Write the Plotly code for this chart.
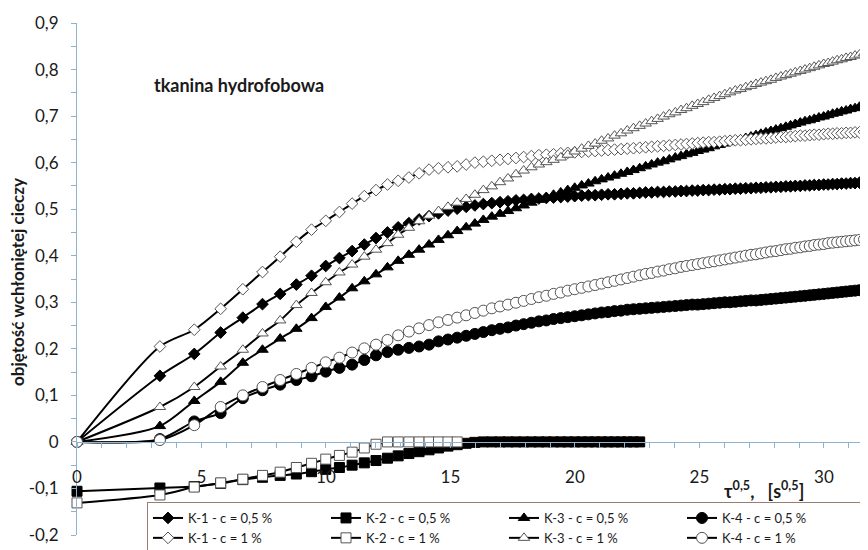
import plotly.graph_objects as go

# x = tau^0.5 [s^0.5] for each measurement
X = [0, 3.33, 4.71, 5.77, 6.66, 7.45, 8.16, 8.81, 9.42, 9.99, 10.54, 11.05, 11.54, 12.01, 12.47,
     12.90, 13.33, 13.74, 14.14, 14.52, 14.90, 15.27, 15.63, 15.98, 16.32, 16.66, 16.99, 17.31,
     17.63, 17.94, 18.25, 18.55, 18.85, 19.14, 19.43, 19.71, 19.99, 20.27, 20.54, 20.81, 21.07,
     21.33, 21.59, 21.85, 22.10, 22.35, 22.60, 22.84, 23.08, 23.32, 23.56, 23.79, 24.03, 24.26,
     24.48, 24.71, 24.93, 25.15, 25.37, 25.59, 25.81, 26.02, 26.23, 26.44, 26.65, 26.86, 27.07,
     27.27, 27.47, 27.67, 27.87, 28.07, 28.27, 28.47, 28.66, 28.85, 29.05, 29.24, 29.43, 29.61,
     29.80, 29.99, 30.17, 30.35, 30.53, 30.71, 30.89, 31.07, 31.25, 31.43, 31.61]

K1_05 = [0, 0.142, 0.189, 0.235, 0.267, 0.296, 0.318, 0.338, 0.357, 0.378, 0.395, 0.410, 0.424,
         0.438, 0.450, 0.461, 0.470, 0.478, 0.485, 0.491, 0.497, 0.501, 0.505, 0.508, 0.511, 0.513,
         0.515, 0.517, 0.519, 0.520, 0.522, 0.523, 0.524, 0.525, 0.526, 0.527, 0.528, 0.529, 0.530,
         0.530, 0.531, 0.532, 0.532, 0.533, 0.534, 0.534, 0.535, 0.536, 0.536, 0.537, 0.537, 0.538,
         0.538, 0.539, 0.539, 0.540, 0.540, 0.541, 0.541, 0.542, 0.542, 0.543, 0.543, 0.544, 0.544,
         0.545, 0.545, 0.546, 0.546, 0.547, 0.547, 0.548, 0.548, 0.549, 0.549, 0.550, 0.550, 0.551,
         0.551, 0.552, 0.552, 0.553, 0.553, 0.554, 0.554, 0.555, 0.555, 0.556, 0.556, 0.557, 0.557]

K2_05 = [-0.106, -0.099, -0.096, -0.089, -0.081, -0.076, -0.072, -0.069, -0.064, -0.059, -0.055,
         -0.050, -0.045, -0.040, -0.035, -0.030, -0.025, -0.021, -0.017, -0.013, -0.009, -0.006,
         -0.003, -0.001, 0, 0, 0, 0, 0, 0, 0, 0, 0, 0, 0, 0, 0, 0, 0, 0, 0, 0, 0, 0, 0, 0, 0]

K3_05 = [0, 0.034, 0.088, 0.129, 0.170, 0.198, 0.222, 0.243, 0.266, 0.290, 0.310, 0.330, 0.345,
         0.360, 0.375, 0.389, 0.402, 0.413, 0.424, 0.434, 0.444, 0.453, 0.461, 0.469, 0.477, 0.484,
         0.490, 0.496, 0.502, 0.508, 0.514, 0.520, 0.526, 0.531, 0.536, 0.541, 0.546, 0.551, 0.555,
         0.560, 0.564, 0.568, 0.572, 0.576, 0.580, 0.584, 0.588, 0.592, 0.596, 0.600, 0.603, 0.607,
         0.611, 0.614, 0.618, 0.621, 0.625, 0.628, 0.631, 0.635, 0.638, 0.641, 0.644, 0.647, 0.650,
         0.653, 0.656, 0.659, 0.662, 0.665, 0.668, 0.671, 0.674, 0.677, 0.680, 0.683, 0.686, 0.689,
         0.691, 0.694, 0.697, 0.699, 0.702, 0.705, 0.707, 0.710, 0.712, 0.715, 0.717, 0.720, 0.722]

K4_05 = [0, 0.006, 0.044, 0.062, 0.094, 0.111, 0.123, 0.133, 0.141, 0.151, 0.159, 0.166, 0.176,
         0.186, 0.193, 0.198, 0.202, 0.205, 0.209, 0.216, 0.220, 0.224, 0.228, 0.232, 0.236, 0.240,
         0.243, 0.246, 0.250, 0.253, 0.256, 0.259, 0.261, 0.264, 0.266, 0.268, 0.270, 0.272, 0.274,
         0.276, 0.278, 0.279, 0.281, 0.282, 0.284, 0.285, 0.286, 0.287, 0.288, 0.289, 0.290, 0.291,
         0.292, 0.293, 0.294, 0.295, 0.295, 0.296, 0.297, 0.298, 0.299, 0.300, 0.300, 0.301, 0.302,
         0.303, 0.304, 0.304, 0.305, 0.306, 0.307, 0.308, 0.309, 0.310, 0.311, 0.312, 0.313, 0.314,
         0.315, 0.316, 0.317, 0.318, 0.319, 0.320, 0.321, 0.322, 0.323, 0.324, 0.325, 0.326, 0.327]

K1_1 = [0, 0.205, 0.241, 0.286, 0.328, 0.365, 0.398, 0.430, 0.456, 0.475, 0.494, 0.512, 0.528,
        0.541, 0.553, 0.561, 0.568, 0.577, 0.585, 0.588, 0.590, 0.592, 0.596, 0.600, 0.602, 0.604,
        0.606, 0.608, 0.610, 0.612, 0.614, 0.616, 0.617, 0.618, 0.620, 0.621, 0.622, 0.623, 0.624,
        0.625, 0.626, 0.627, 0.628, 0.629, 0.630, 0.631, 0.632, 0.633, 0.634, 0.635, 0.636, 0.637,
        0.638, 0.639, 0.640, 0.641, 0.642, 0.643, 0.644, 0.644, 0.645, 0.646, 0.647, 0.648, 0.648,
        0.649, 0.650, 0.651, 0.652, 0.652, 0.653, 0.654, 0.655, 0.655, 0.656, 0.657, 0.658, 0.658,
        0.659, 0.660, 0.660, 0.661, 0.662, 0.662, 0.663, 0.663, 0.664, 0.664, 0.665, 0.665, 0.666]

K2_1 = [-0.131, -0.114, -0.097, -0.088, -0.080, -0.072, -0.065, -0.055, -0.046, -0.037, -0.029,
        -0.022, -0.013, -0.005, 0, 0, 0, 0, 0, 0, 0, 0]

K3_1 = [0, 0.075, 0.118, 0.162, 0.198, 0.233, 0.261, 0.294, 0.320, 0.343, 0.364, 0.381, 0.398,
        0.413, 0.427, 0.445, 0.460, 0.474, 0.486, 0.496, 0.505, 0.514, 0.522, 0.531, 0.541, 0.549,
        0.558, 0.566, 0.575, 0.583, 0.590, 0.596, 0.601, 0.606, 0.611, 0.617, 0.624, 0.630, 0.636,
        0.641, 0.647, 0.652, 0.658, 0.663, 0.669, 0.674, 0.679, 0.684, 0.689, 0.694, 0.699, 0.704,
        0.708, 0.713, 0.717, 0.722, 0.726, 0.730, 0.735, 0.739, 0.743, 0.747, 0.751, 0.755, 0.758,
        0.762, 0.765, 0.769, 0.772, 0.775, 0.778, 0.782, 0.785, 0.788, 0.791, 0.794, 0.797, 0.800,
        0.803, 0.806, 0.809, 0.812, 0.814, 0.817, 0.820, 0.822, 0.825, 0.827, 0.830, 0.832, 0.835]

K4_1 = [0, 0.004, 0.036, 0.075, 0.100, 0.118, 0.133, 0.146, 0.159, 0.171, 0.181, 0.192, 0.201,
        0.209, 0.219, 0.229, 0.237, 0.244, 0.251, 0.257, 0.262, 0.267, 0.272, 0.277, 0.282, 0.287,
        0.291, 0.295, 0.299, 0.303, 0.307, 0.311, 0.314, 0.318, 0.321, 0.325, 0.328, 0.331, 0.334,
        0.337, 0.340, 0.343, 0.346, 0.349, 0.352, 0.355, 0.358, 0.361, 0.363, 0.366, 0.368, 0.371,
        0.373, 0.376, 0.378, 0.380, 0.382, 0.384, 0.386, 0.388, 0.390, 0.392, 0.394, 0.396, 0.398,
        0.400, 0.402, 0.403, 0.405, 0.407, 0.409, 0.410, 0.412, 0.414, 0.415, 0.417, 0.418, 0.420,
        0.421, 0.423, 0.424, 0.425, 0.427, 0.428, 0.429, 0.430, 0.431, 0.432, 0.433, 0.434, 0.435]

NAMES = ["K-1 - c = 0,5 %", "K-2 - c = 0,5 %", "K-3 - c = 0,5 %", "K-4 - c = 0,5 %",
         "K-1 - c = 1 %", "K-2 - c = 1 %", "K-3 - c = 1 %", "K-4 - c = 1 %"]
SERIES = [K1_05, K2_05, K3_05, K4_05, K1_1, K2_1, K3_1, K4_1]

Y_TICKS = [-0.2, -0.1, 0, 0.1, 0.2, 0.3, 0.4, 0.5, 0.6, 0.7, 0.8, 0.9]
Y_TICK_LABELS = ["-0,2", "-0,1", "0", "0,1", "0,2", "0,3", "0,4", "0,5", "0,6", "0,7", "0,8", "0,9"]
X_TICKS = [0, 5, 10, 15, 20, 25, 30]
X_TICK_LABELS = ["0", "5", "10", "15", "20", "25", "30"]

SYMBOLS = ["diamond", "square", "triangle-up", "circle"] * 2
SIZES = [9, 10, 10, 11] * 2
FILLED = [True] * 4 + [False] * 4

FONT = "Lato, 'Open Sans', sans-serif"
AXIS_COLOR = "#8db3cf"
TXT = "#1a1a1a"

# page body adds an 8px offset; plot area spans window x 77..868, y 23..535
PL, PT, PR, PB = 77, 23, 868, 535
OFF = 8


def px_x(x):
    return (x - PL) / (PR - PL)


def px_y(y):
    return (PB - y) / (PB - PT)


fig = go.Figure()
for name, ys, sym, size, filled in zip(NAMES, SERIES, SYMBOLS, SIZES, FILLED):
    fig.add_trace(go.Scatter(
        x=X[:len(ys)], y=ys, name=name, mode="lines+markers",
        line=dict(color="black", width=2, shape="spline", smoothing=0.8),
        marker=dict(symbol=sym, size=size,
                    color="black" if filled else "white",
                    line=dict(color="black" if filled else "#555555", width=1)),
        cliponaxis=False,
    ))

fig.update_layout(
    width=PR - OFF, height=550,
    margin=dict(l=PL - OFF, r=0, t=PT - OFF, b=550 - (PB - OFF), autoexpand=False),
    paper_bgcolor="white", plot_bgcolor="white",
    font=dict(family=FONT, size=15, color=TXT),
    showlegend=True,
    legend=dict(orientation="h", x=px_x(147), y=px_y(502), xanchor="left", yanchor="top",
                bgcolor="white", bordercolor="#9c7b73", borderwidth=1,
                font=dict(family=FONT, size=13, color=TXT),
                entrywidth=133, entrywidthmode="pixels", traceorder="normal",
                itemclick=False),
    xaxis=dict(range=[0, 31.77], anchor="free", position=0.2 / 1.1,
               tickmode="array", tickvals=X_TICKS, ticktext=X_TICK_LABELS,
               ticks="outside", ticklen=5, tickcolor=AXIS_COLOR, tickwidth=1,
               minor=dict(tickmode="linear", tick0=0, dtick=1, ticks="outside",
                          ticklen=5, tickcolor=AXIS_COLOR),
               showline=True, linecolor=AXIS_COLOR, linewidth=1,
               showgrid=False, zeroline=False, ticklabelstandoff=15,
               tickfont=dict(size=17, color=TXT)),
    yaxis=dict(range=[-0.2, 0.9], tickmode="array", tickvals=Y_TICKS, ticktext=Y_TICK_LABELS,
               ticks="outside", ticklen=5, tickcolor=AXIS_COLOR, tickwidth=1,
               minor=dict(tickmode="linear", tick0=0, dtick=0.05, ticks="outside",
                          ticklen=5, tickcolor=AXIS_COLOR),
               showline=True, linecolor=AXIS_COLOR, linewidth=1,
               showgrid=False, zeroline=False, ticklabelstandoff=9,
               tickfont=dict(size=17, color=TXT)),
)

fig.add_annotation(text="<b>objętość wchłoniętej cieczy</b>", xref="paper", yref="paper",
                   x=px_x(17), y=px_y(282), xanchor="center", yanchor="middle",
                   textangle=-90, showarrow=False,
                   font=dict(family=FONT, size=17, color=TXT))
fig.add_annotation(text="<b>tkanina hydrofobowa</b>", xref="paper", yref="paper",
                   x=px_x(152), y=px_y(85), xanchor="left", yanchor="middle",
                   showarrow=False, font=dict(family=FONT, size=18, color=TXT))
fig.add_annotation(text="<b>τ<sup>0,5</sup>,\u00a0\u00a0\u00a0[s<sup>0,5</sup>]</b>",
                   xref="paper", yref="paper",
                   x=px_x(722), y=px_y(490), xanchor="left", yanchor="middle",
                   showarrow=False, font=dict(family=FONT, size=18, color=TXT))

fig.write_html("out.html")
